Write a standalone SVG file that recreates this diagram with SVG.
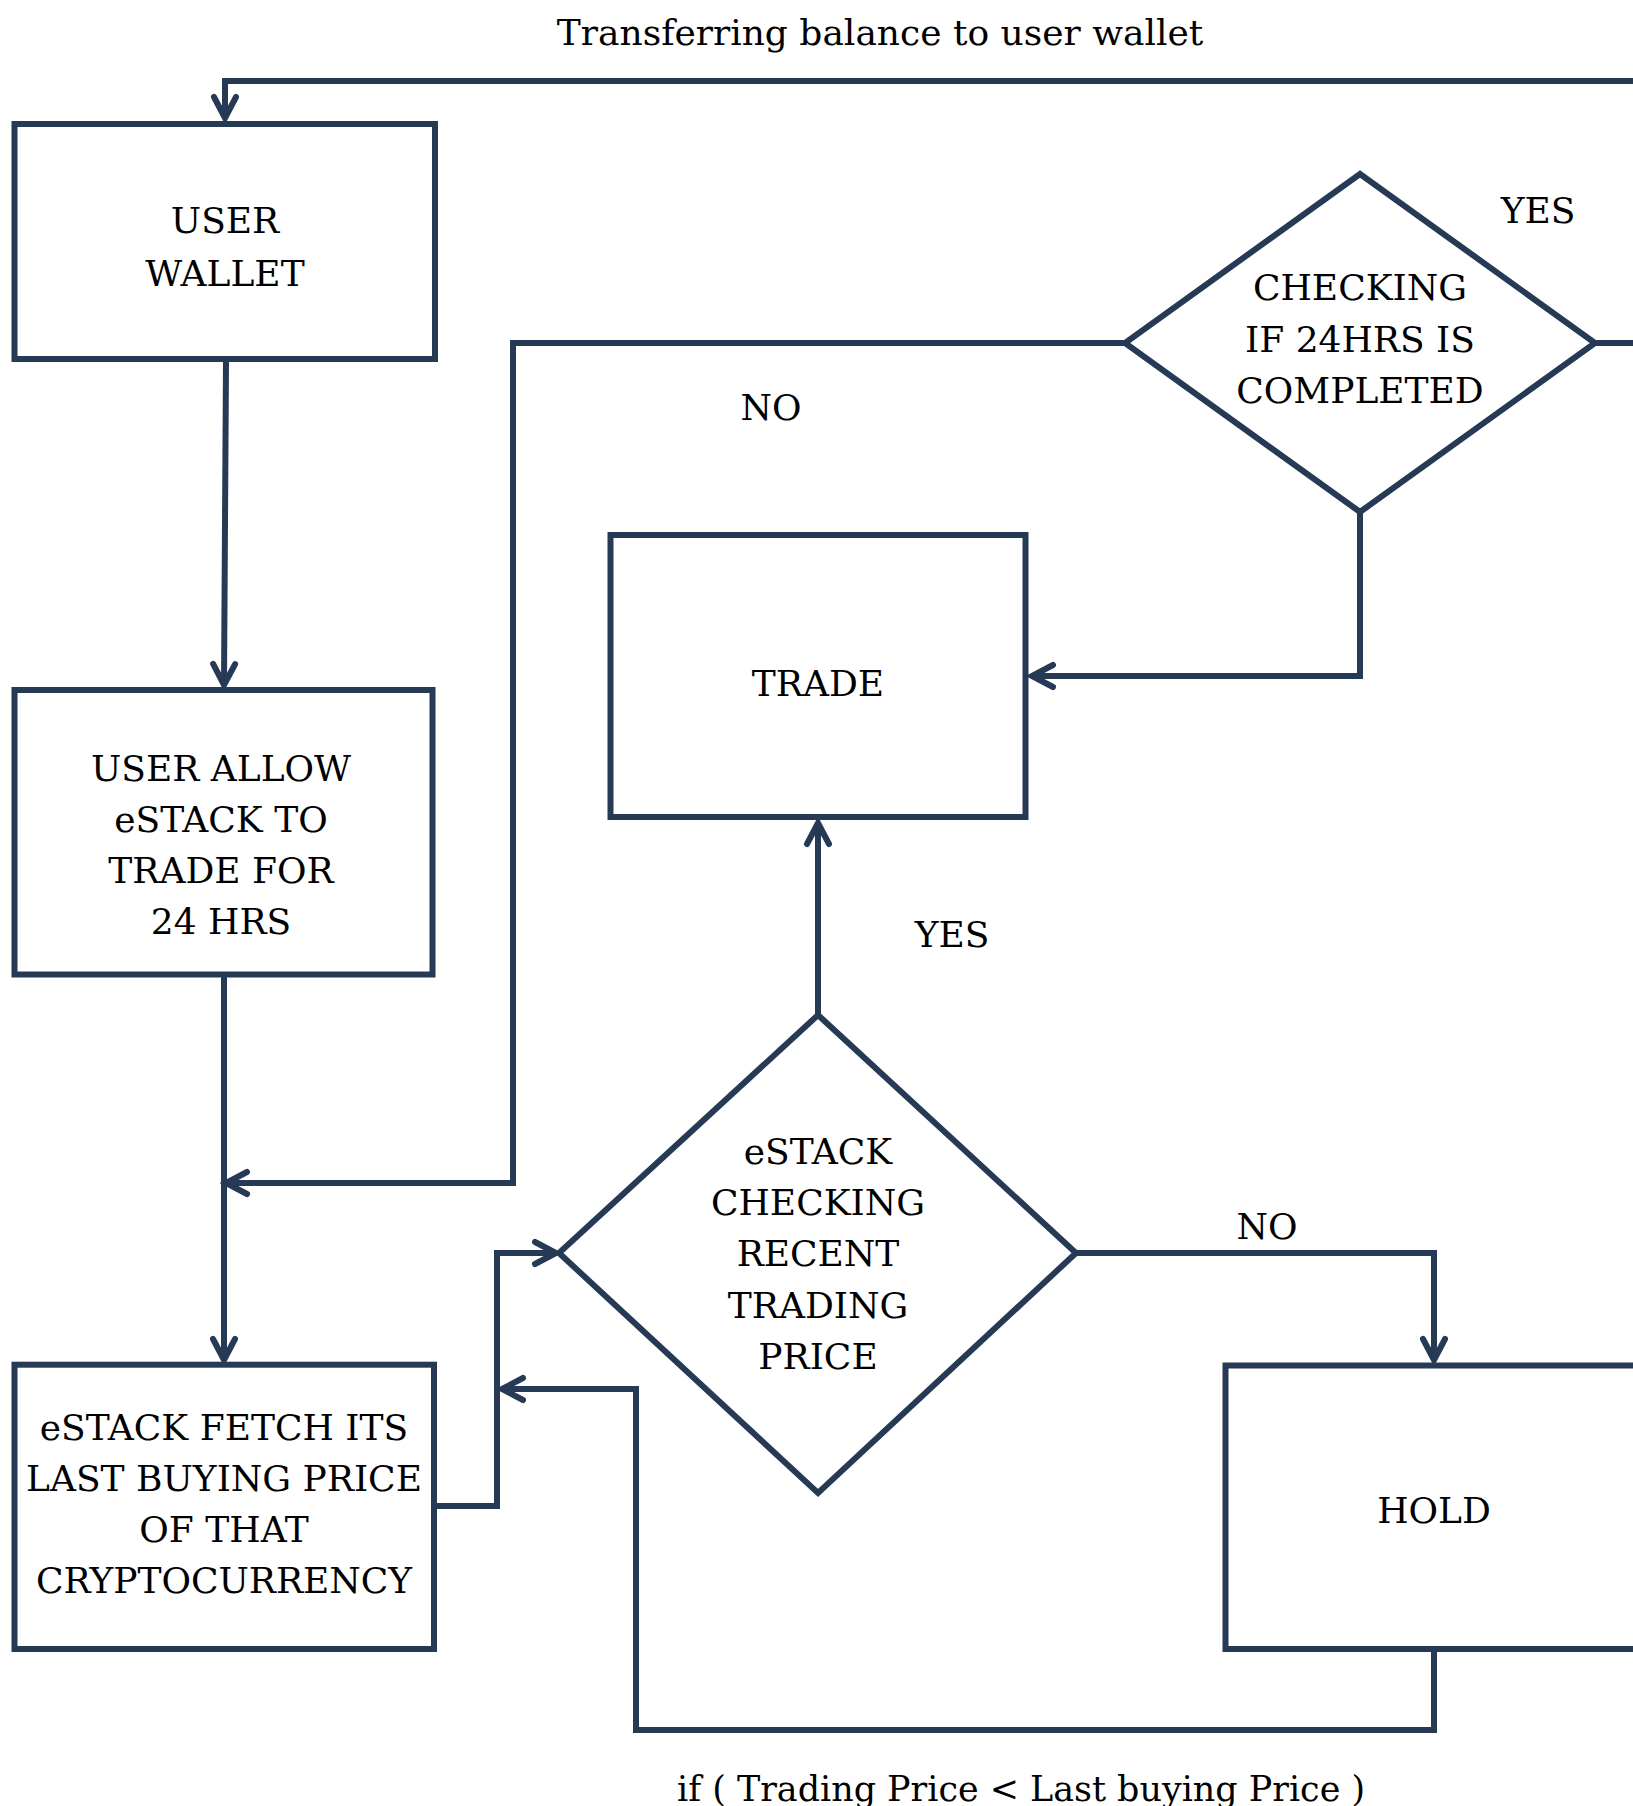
<svg xmlns="http://www.w3.org/2000/svg" width="1633" height="1806" viewBox="0 0 1633 1806">
<style>
.box{fill:#ffffff;stroke:#263a55;stroke-width:6}
.con{fill:none;stroke:#263a55;stroke-width:6;stroke-linejoin:miter}
text{font-family:"DejaVu Serif","Liberation Serif",serif;font-size:36px;fill:#000000;text-anchor:middle}
</style>
<defs>
<marker id="arr" markerUnits="userSpaceOnUse" markerWidth="40" markerHeight="40" refX="0" refY="0" viewBox="-30 -20 40 40" orient="auto" overflow="visible">
<path d="M-21,-11 L0,0 L-21,11" fill="none" stroke="#263a55" stroke-width="6" stroke-linecap="round" stroke-linejoin="miter"/>
</marker>
</defs>
<rect width="1633" height="1806" fill="#ffffff"/>
<g id="connectors">
<path class="con" d="M1595,343 H1660 V81 H225 V118" marker-end="url(#arr)"/>
<path class="con" d="M226,362 L224,685" marker-end="url(#arr)"/>
<path class="con" d="M224,977 V1360" marker-end="url(#arr)"/>
<path class="con" d="M1125,343 H513 V1183 H226" marker-end="url(#arr)"/>
<path class="con" d="M1360,512 V676 H1032" marker-end="url(#arr)"/>
<path class="con" d="M818,1015 V823" marker-end="url(#arr)"/>
<path class="con" d="M437,1506 H497 V1253 H556" marker-end="url(#arr)"/>
<path class="con" d="M1076,1253 H1434 V1360" marker-end="url(#arr)"/>
<path class="con" d="M1434,1652 V1730 H636 V1389 H502" marker-end="url(#arr)"/>
</g>
<g id="labels">
<text x="880" y="45">Transferring balance to user wallet</text>
<text x="1538" y="223">YES</text>
<text x="771" y="420">NO</text>
<text x="952" y="947">YES</text>
<text x="1267" y="1239">NO</text>
<text x="1021" y="1801" textLength="688" lengthAdjust="spacingAndGlyphs">if ( Trading Price &lt; Last buying Price )</text>
</g>
<g id="user-wallet">
<rect class="box" x="14.5" y="124" width="420.5" height="235"/>
<text x="225" y="233">USER</text>
<text x="225" y="286">WALLET</text>
</g>
<g id="user-allow">
<rect class="box" x="14.5" y="690" width="418" height="284.5"/>
<text x="221" y="781">USER ALLOW</text>
<text x="221" y="832">eSTACK TO</text>
<text x="221" y="883">TRADE FOR</text>
<text x="221" y="934">24 HRS</text>
</g>
<g id="estack-fetch">
<rect class="box" x="14.5" y="1364.7" width="419.5" height="284.3"/>
<text x="224" y="1440">eSTACK FETCH ITS</text>
<text x="224" y="1491">LAST BUYING PRICE</text>
<text x="224" y="1542">OF THAT</text>
<text x="224" y="1593">CRYPTOCURRENCY</text>
</g>
<g id="trade">
<rect class="box" x="610.5" y="535" width="415" height="282"/>
<text x="818" y="696">TRADE</text>
</g>
<g id="check-24hrs">
<polygon class="box" points="1360,174 1595,343 1360,512 1125,343"/>
<text x="1360" y="300">CHECKING</text>
<text x="1360" y="352">IF 24HRS IS</text>
<text x="1360" y="403">COMPLETED</text>
</g>
<g id="check-price">
<polygon class="box" points="818,1015 1076,1253 818,1493 559,1253"/>
<text x="818" y="1164">eSTACK</text>
<text x="818" y="1215">CHECKING</text>
<text x="818" y="1266">RECENT</text>
<text x="818" y="1318">TRADING</text>
<text x="818" y="1369">PRICE</text>
</g>
<g id="hold">
<rect class="box" x="1225.5" y="1365.5" width="450" height="283.5"/>
<text x="1434" y="1523">HOLD</text>
</g>
</svg>
